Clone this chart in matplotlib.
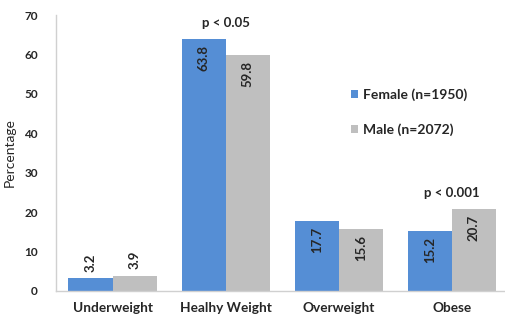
import matplotlib
matplotlib.use("Agg")
import numpy as np
from matplotlib import pyplot as plt

# data
categories = ['Underweight', 'Healhy Weight', 'Overweight', 'Obese']
female = [3.2, 63.8, 17.7, 15.2]
male = [3.9, 59.8, 15.6, 20.7]
female_label = 'Female (n=1950)'
male_label = 'Male (n=2072)'
p_labels = {1: 'p < 0.05', 3: 'p < 0.001'}

blue = '#558ed5'
grey = '#bfbfbf'
txt = '#262626'

plt.rcParams['font.family'] = ['Lato', 'DejaVu Sans']
plt.rcParams['font.weight'] = 'bold'

fig = plt.figure(figsize=(5.05, 3.2), dpi=100)
ax = fig.add_axes([0.111, 0.091, 0.889, 0.862])

x = np.arange(len(categories))
w = 0.39
b1 = ax.bar(x - w / 2, female, w, color=blue, label=female_label)
b2 = ax.bar(x + w / 2, male, w, color=grey, label=male_label)

# value labels, rotated; inside the bar unless it is too short
for bars, vals in ((b1, female), (b2, male)):
    for rect, v in zip(bars, vals):
        cx = rect.get_x() + rect.get_width() / 2
        if v > 10:
            ax.text(cx, v - 1.4, f'{v:.1f}', rotation=90, ha='center', va='top',
                    fontsize=9.5, color=txt, fontweight='bold')
        else:
            ax.text(cx, v + 1.6, f'{v:.1f}', rotation=90, ha='center', va='bottom',
                    fontsize=9.5, color=txt, fontweight='bold')

for i, s in p_labels.items():
    top = max(female[i], male[i])
    ax.text(x[i], top + 2.6, s, ha='center', va='bottom', fontsize=9.5,
            color=txt, fontweight='bold')

ax.set_xlim(-0.5, 3.47)
ax.set_ylim(0, 70)
ax.set_yticks(range(0, 71, 10))
ax.set_xticks(x)
ax.set_xticklabels(categories, fontsize=9.8, color=txt)
ax.tick_params(axis='y', labelsize=8.5, colors=txt, length=0, pad=13)
ax.tick_params(axis='x', length=0, pad=8)
ax.set_ylabel('Percentage', fontsize=10, color=txt, labelpad=6)

for s in ['top', 'right']:
    ax.spines[s].set_visible(False)
for s in ['left', 'bottom']:
    ax.spines[s].set_color('#d0d0d0')
    ax.spines[s].set_linewidth(1)

ax.legend(loc='upper left', bbox_to_anchor=(0.63, 0.78), frameon=False,
          fontsize=10, handlelength=0.5, handleheight=0.5, handletextpad=0.35,
          labelspacing=1.6, labelcolor=txt)

fig.savefig('out.png', dpi=100)
